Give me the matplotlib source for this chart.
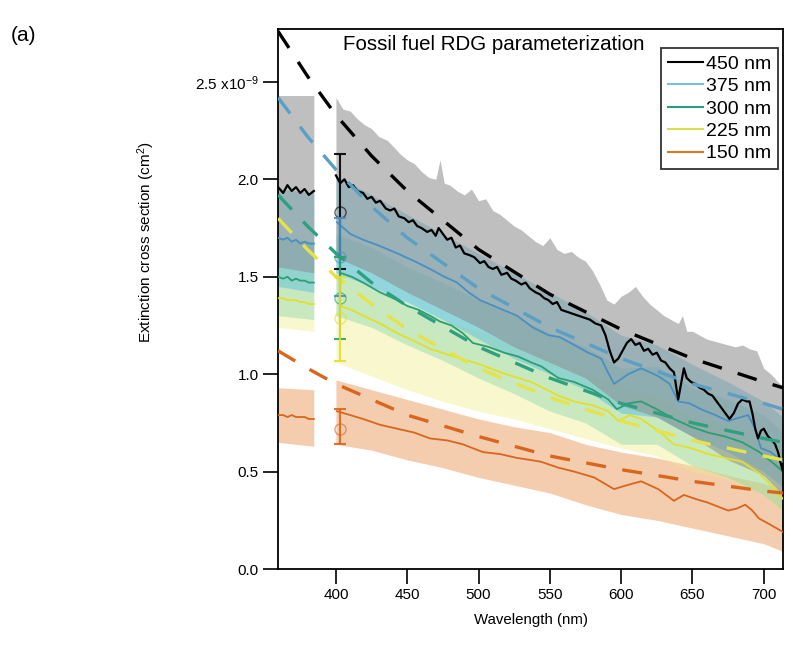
import matplotlib
matplotlib.use("Agg")
import matplotlib.pyplot as plt
import numpy as np
from matplotlib.lines import Line2D

plt.rcParams["font.family"] = ["Liberation Sans", "DejaVu Sans"]
plt.rcParams["mathtext.default"] = "regular"

# --- data (units of 1e-9 cm^2) ---
sizes = ["450 nm", "375 nm", "300 nm", "225 nm", "150 nm"]

# left block of measurements (before the gap)
wl_left = [359.4, 363, 366, 369, 372, 375, 378, 381, 384.5]
line_left = {
    "450 nm": [1.96, 1.93, 1.97, 1.94, 1.96, 1.93, 1.95, 1.92, 1.94],
    "375 nm": [1.70, 1.69, 1.70, 1.68, 1.69, 1.67, 1.68, 1.67, 1.67],
    "300 nm": [1.50, 1.49, 1.50, 1.48, 1.49, 1.48, 1.48, 1.47, 1.47],
    "225 nm": [1.39, 1.39, 1.38, 1.38, 1.38, 1.37, 1.37, 1.36, 1.36],
    "150 nm": [0.79, 0.79, 0.78, 0.79, 0.78, 0.78, 0.78, 0.77, 0.77],
}
wl_left_band = [359.4, 384.5]
band_left_hi = {"450 nm": [2.43, 2.43], "375 nm": [1.95, 1.93], "300 nm": [1.70, 1.68],
                "225 nm": [1.55, 1.53], "150 nm": [0.93, 0.92]}
band_left_lo = {"450 nm": [1.55, 1.52], "375 nm": [1.45, 1.42], "300 nm": [1.30, 1.28],
                "225 nm": [1.24, 1.22], "150 nm": [0.65, 0.63]}

# main block of measurements
wl_450 = [400, 403, 406, 409, 412, 415, 419, 422, 425, 428, 431, 435, 438, 441, 444, 448, 451, 454,
          457, 460, 464, 467, 470, 472, 475, 478, 481, 484, 487, 490, 494, 497, 501, 504, 507, 510,
          513, 516, 520, 523, 526, 530, 533, 536, 540, 543, 546, 549, 552, 555, 558, 562, 566, 570,
          574, 578, 582, 586, 589, 592, 595, 598, 601, 604, 607, 610, 613, 616, 619, 622, 625, 628,
          631, 634, 637, 640, 642, 644, 646, 649, 652, 655, 658, 661, 664, 667, 670, 673, 676, 679,
          682, 685, 688, 690, 692, 694, 696, 698, 700, 703, 706, 708, 710, 712, 713.5]
val_450 = [2.02, 1.98, 2.00, 1.96, 1.97, 1.94, 1.93, 1.90, 1.91, 1.88, 1.89, 1.85, 1.84, 1.85, 1.81,
           1.80, 1.78, 1.79, 1.76, 1.75, 1.73, 1.74, 1.71, 1.75, 1.72, 1.69, 1.70, 1.65, 1.66, 1.62,
           1.61, 1.60, 1.57, 1.58, 1.55, 1.54, 1.55, 1.51, 1.52, 1.49, 1.48, 1.46, 1.47, 1.44, 1.42,
           1.41, 1.39, 1.38, 1.36, 1.37, 1.33, 1.32, 1.31, 1.30, 1.29, 1.28, 1.26, 1.25, 1.20, 1.12,
           1.06, 1.08, 1.12, 1.16, 1.18, 1.15, 1.16, 1.12, 1.13, 1.10, 1.11, 1.07, 1.06, 1.03, 1.01,
           0.87, 0.95, 1.03, 0.98, 0.96, 0.95, 0.93, 0.92, 0.90, 0.89, 0.86, 0.83, 0.80, 0.77, 0.80,
           0.85, 0.87, 0.86, 0.86, 0.80, 0.72, 0.67, 0.71, 0.72, 0.68, 0.66, 0.64, 0.60, 0.54, 0.50]

wl_375 = [400.7, 410, 419, 430, 443, 455, 466, 476, 485, 493, 501, 514, 527, 538, 549, 557, 567, 577,
          586, 590, 595, 605, 614, 626, 634, 640, 648, 656, 666, 675, 689, 694, 698, 705, 713.5]
val_375 = [1.78, 1.72, 1.69, 1.66, 1.62, 1.58, 1.54, 1.50, 1.47, 1.42, 1.38, 1.34, 1.30, 1.24, 1.20,
           1.19, 1.15, 1.11, 1.08, 1.02, 0.95, 1.00, 1.03, 0.99, 0.95, 0.86, 0.85, 0.82, 0.79, 0.76,
           0.79, 0.72, 0.62, 0.60, 0.55]

wl_300 = [403, 411, 419, 431, 443, 450, 458, 466, 473, 481, 489, 496, 507, 518, 528, 537, 544, 556,
          567, 580, 591, 597, 605, 614, 625, 637, 649, 661, 673, 685, 697, 708, 713.5]
val_300 = [1.52, 1.50, 1.47, 1.42, 1.38, 1.35, 1.33, 1.30, 1.27, 1.25, 1.21, 1.16, 1.14, 1.11, 1.09,
           1.06, 1.04, 0.98, 0.96, 0.92, 0.87, 0.82, 0.85, 0.86, 0.82, 0.77, 0.73, 0.70, 0.68, 0.65,
           0.60, 0.535, 0.50]

wl_225 = [403, 411, 419, 431, 443, 455, 466, 483, 501, 519, 537, 556, 567, 580, 591, 598, 606, 614,
          626, 637, 649, 661, 673, 685, 697, 708, 713.5]
val_225 = [1.35, 1.33, 1.30, 1.26, 1.21, 1.17, 1.13, 1.09, 1.05, 1.00, 0.96, 0.89, 0.86, 0.84, 0.81,
           0.76, 0.79, 0.77, 0.71, 0.64, 0.62, 0.59, 0.57, 0.55, 0.49, 0.41, 0.36]

wl_150 = [400.7, 410, 419, 431, 443, 455, 466, 478, 489, 496, 503, 515, 527, 536, 544, 556, 567, 581,
          595, 604, 614, 626, 637, 644, 652, 661, 668, 675, 681, 687, 692, 696.5, 704, 713.5]
val_150 = [0.81, 0.79, 0.77, 0.74, 0.72, 0.70, 0.67, 0.66, 0.64, 0.62, 0.60, 0.59, 0.57, 0.56, 0.55,
           0.52, 0.50, 0.47, 0.41, 0.43, 0.45, 0.41, 0.35, 0.38, 0.36, 0.34, 0.32, 0.30, 0.31, 0.33,
           0.30, 0.26, 0.23, 0.19]

lines_main = {
    "450 nm": (wl_450, val_450),
    "375 nm": (wl_375, val_375),
    "300 nm": (wl_300, val_300),
    "225 nm": (wl_225, val_225),
    "150 nm": (wl_150, val_150),
}

# uncertainty envelopes of the main block
wl_band = [400, 425, 450, 475, 500, 525, 550, 575, 600, 625, 650, 675, 700, 713.5]
wl_gray_top = [400, 405, 410, 415, 420, 425, 430, 436, 440, 445, 450, 455, 460, 465, 470, 473, 476,
               480, 485, 490, 495, 500, 505, 510, 515, 520, 525, 530, 535, 540, 545, 550, 555, 560,
               565, 570, 575, 580, 585, 590, 595, 600, 605, 610, 615, 620, 625, 630, 635, 640, 643,
               646, 650, 655, 660, 665, 670, 675, 680, 685, 690, 695, 700, 705, 710, 713.5]
gray_top = [2.42, 2.36, 2.35, 2.31, 2.28, 2.26, 2.22, 2.20, 2.17, 2.13, 2.10, 2.08, 2.04, 2.01, 2.00,
            2.10, 1.98, 1.97, 1.94, 1.92, 1.95, 1.89, 1.90, 1.84, 1.82, 1.79, 1.76, 1.74, 1.71, 1.68,
            1.66, 1.70, 1.64, 1.62, 1.63, 1.60, 1.58, 1.53, 1.46, 1.38, 1.36, 1.40, 1.42, 1.45, 1.40,
            1.36, 1.33, 1.30, 1.28, 1.26, 1.30, 1.22, 1.22, 1.20, 1.18, 1.17, 1.16, 1.15, 1.14, 1.15,
            1.13, 1.12, 1.03, 1.00, 0.96, 0.94]
band_hi = {
    "375 nm": [2.02, 1.92, 1.82, 1.72, 1.62, 1.52, 1.42, 1.32, 1.20, 1.15, 1.05, 0.96, 0.86, 0.78],
    "300 nm": [1.72, 1.65, 1.55, 1.47, 1.38, 1.30, 1.21, 1.14, 1.03, 1.04, 0.93, 0.87, 0.79, 0.70],
    "225 nm": [1.53, 1.45, 1.36, 1.28, 1.22, 1.16, 1.09, 1.01, 0.94, 0.89, 0.78, 0.74, 0.64, 0.53],
    "150 nm": [0.97, 0.92, 0.87, 0.82, 0.77, 0.73, 0.70, 0.64, 0.60, 0.57, 0.53, 0.48, 0.44, 0.40],
}
band_lo = {
    "450 nm": [1.60, 1.52, 1.42, 1.33, 1.24, 1.14, 1.06, 0.98, 0.84, 0.78, 0.68, 0.56, 0.48, 0.38],
    "375 nm": [1.52, 1.45, 1.37, 1.28, 1.18, 1.08, 1.00, 0.92, 0.80, 0.78, 0.68, 0.60, 0.50, 0.42],
    "300 nm": [1.30, 1.24, 1.15, 1.07, 0.98, 0.90, 0.81, 0.75, 0.64, 0.64, 0.53, 0.47, 0.38, 0.30],
    "225 nm": [1.06, 0.99, 0.92, 0.86, 0.81, 0.77, 0.72, 0.67, 0.62, 0.58, 0.50, 0.46, 0.38, 0.30],
    "150 nm": [0.64, 0.61, 0.56, 0.52, 0.47, 0.43, 0.39, 0.33, 0.28, 0.25, 0.21, 0.17, 0.13, 0.09],
}

# RDG parameterization (dashed)
wl_model = [359.4, 380, 400, 425, 450, 500, 550, 600, 650, 700, 713.5]
model = {
    "450 nm": [2.76, 2.53, 2.33, 2.12, 1.94, 1.64, 1.41, 1.23, 1.08, 0.96, 0.93],
    "375 nm": [2.42, 2.22, 2.05, 1.86, 1.70, 1.44, 1.24, 1.08, 0.95, 0.85, 0.82],
    "300 nm": [1.92, 1.76, 1.62, 1.47, 1.35, 1.14, 0.98, 0.85, 0.75, 0.67, 0.65],
    "225 nm": [1.80, 1.64, 1.50, 1.36, 1.23, 1.03, 0.88, 0.76, 0.66, 0.58, 0.56],
    "150 nm": [1.12, 1.03, 0.95, 0.87, 0.79, 0.68, 0.58, 0.51, 0.45, 0.40, 0.39],
}

# measured points with error bars
err_wl = 403
err_val = [1.83, 1.60, 1.39, 1.29, 0.72]
err_lo = [1.54, 1.40, 1.18, 1.07, 0.64]
err_hi = [2.13, 1.80, 1.60, 1.50, 0.82]

# --- styles ---
line_col = {"450 nm": "black", "375 nm": "#4a8fc2", "300 nm": "#2e9e70",
            "225 nm": "#e2df2a", "150 nm": "#d9661c"}
dash_col = {"450 nm": "black", "375 nm": "#5b9fc4", "300 nm": "#2ea080",
            "225 nm": "#e6e24a", "150 nm": "#d9661c"}
fill_col = {"450 nm": "#8c8c8c", "375 nm": "#5bc0de", "300 nm": "#7fd6aa",
            "225 nm": "#f0ec80", "150 nm": "#eb9a5e"}
fill_alpha = {"450 nm": 0.55, "375 nm": 0.5, "300 nm": 0.4, "225 nm": 0.38, "150 nm": 0.5}
legend_col = {"450 nm": "black", "375 nm": "#78bfe0", "300 nm": "#2a9d80",
              "225 nm": "#d8e050", "150 nm": "#e0782a"}

fig = plt.figure(figsize=(7.93, 6.52), dpi=100)
ax = fig.add_axes([0.3506, 0.1273, 0.6368, 0.8278])

# fills, drawn with the 450 nm envelope on top
for s in sizes[::-1]:
    c, a = fill_col[s], fill_alpha[s]
    ax.fill_between(wl_left_band, band_left_lo[s], band_left_hi[s], color=c, alpha=a, lw=0, zorder=1)
    if s == "450 nm":
        lo_interp = np.interp(wl_gray_top, wl_band, band_lo[s])
        ax.fill_between(wl_gray_top, lo_interp, gray_top, color=c, alpha=a, lw=0, zorder=1)
    else:
        ax.fill_between(wl_band, band_lo[s], band_hi[s], color=c, alpha=a, lw=0, zorder=1)

# measured lines
for s in sizes[::-1]:
    lw = 1.6 if s == "450 nm" else 1.3
    ax.plot(wl_left, line_left[s], color=line_col[s], lw=lw, zorder=3)
    ax.plot(lines_main[s][0], lines_main[s][1], color=line_col[s], lw=lw, zorder=3)

# RDG model dashed lines
for s in sizes[::-1]:
    ax.plot(wl_model, model[s], color=dash_col[s], lw=2.4, dashes=(6, 5), zorder=4)

# error bars with open circles
for i, s in enumerate(sizes):
    ax.errorbar([err_wl], [err_val[i]],
                yerr=[[err_val[i] - err_lo[i]], [err_hi[i] - err_val[i]]],
                fmt="none", ecolor=line_col[s], elinewidth=1.5, capsize=4, capthick=1.5, zorder=5,
                alpha=0.9)
    ax.plot([err_wl], [err_val[i]], marker="o", ms=8, mfc="none", mec=line_col[s], mew=1.0,
            alpha=0.6, zorder=5)

ax.set_xlim(359.4, 713.5)
ax.set_ylim(0, 2.77)
ax.set_xticks([400, 450, 500, 550, 600, 650, 700])
ax.set_yticks([0, 0.5, 1.0, 1.5, 2.0, 2.5])
ax.set_yticklabels(["0.0", "0.5", "1.0", "1.5", "2.0", "2.5 x10$^{-9}$"])
ax.tick_params(direction="out", length=11, width=1.2, labelsize=11, pad=3,
               top=False, right=False)
for sp in ax.spines.values():
    sp.set_linewidth(1.3)

ax.set_xlabel("Wavelength (nm)", fontsize=10.8)
ax.xaxis.set_label_coords(0.5, -0.082)
ax.set_ylabel("Extinction cross section (cm$^{2}$)", fontsize=11)
ax.yaxis.set_label_coords(-0.24, 0.605)

ax.text(0.129, 0.972, "Fossil fuel RDG parameterization", transform=ax.transAxes,
        ha="left", va="center", fontsize=14.8)
fig.text(0.013, 0.945, "(a)", fontsize=15, ha="left", va="center")

handles = [Line2D([], [], color=legend_col[s], lw=1.5) for s in sizes]
leg = ax.legend(handles, sizes, loc="upper right", bbox_to_anchor=(0.99, 0.965),
                borderaxespad=0, fontsize=14, frameon=True, fancybox=False,
                labelspacing=0.25, handlelength=1.8, handletextpad=0.15, borderpad=0.35)
leg.get_frame().set_edgecolor("black")
leg.get_frame().set_linewidth(1.3)
leg.set_zorder(10)

fig.savefig("out.png", dpi=100)
